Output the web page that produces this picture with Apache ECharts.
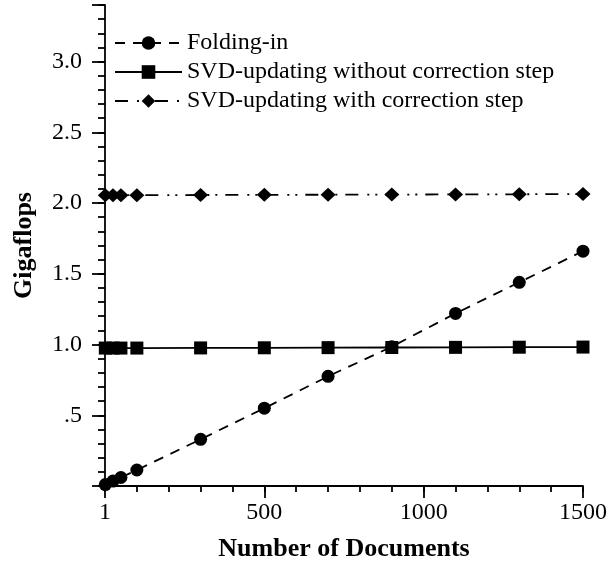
<!DOCTYPE html>
<html>
<head>
<meta charset="utf-8">
<script src="https://cdn.jsdelivr.net/npm/echarts@6/dist/echarts.min.js"></script>
<style>html,body{margin:0;padding:0;background:#fff}#c{width:610px;height:567px}</style>
</head>
<body>
<div id="c"></div>
<script>
var docs = [1, 25, 50, 100, 300, 500, 700, 900, 1100, 1300, 1500];
var foldingIn = [0.01, 0.035, 0.06, 0.113, 0.33, 0.55, 0.775, 0.985, 1.22, 1.44, 1.66];
var svdNoCorr = [0.975, 0.975, 0.975, 0.975, 0.976, 0.977, 0.978, 0.979, 0.98, 0.981, 0.982];
var svdCorr = [2.056, 2.056, 2.056, 2.056, 2.057, 2.058, 2.059, 2.06, 2.061, 2.062, 2.064];
var seriesNames = ['Folding-in', 'SVD-updating without correction step', 'SVD-updating with correction step'];
var xMajorLabels = {0: '1', 500: '500', 1000: '1000', 1500: '1500'};

function pairs(ys) { return docs.map(function (d, i) { return [d, ys[i]]; }); }

var FONT = '"Liberation Serif", "Times New Roman", serif';
var chart = echarts.init(document.getElementById('c'), null, {renderer: 'canvas'});
var axisLineStyle = {color: '#000', width: 1.8};
chart.setOption({
  animation: false,
  backgroundColor: '#fff',
  textStyle: {fontFamily: FONT, color: '#000'},
  grid: {left: 105, right: 24, top: 5, bottom: 81, containLabel: false},
  legend: {
    orient: 'vertical', left: 109, top: 26, itemWidth: 67, itemHeight: 17, itemGap: 5,
    data: seriesNames,
    textStyle: {fontFamily: FONT, fontSize: 24, color: '#000'}
  },
  xAxis: [
    {
      type: 'value', min: 0, max: 1500, interval: 500, position: 'bottom',
      name: 'Number of Documents', nameLocation: 'middle', nameGap: 50,
      nameTextStyle: {fontFamily: FONT, fontSize: 26, fontWeight: 'bold', color: '#000'},
      axisLine: {show: true, lineStyle: axisLineStyle},
      axisTick: {show: true, inside: false, length: 12, lineStyle: {color: '#000', width: 1.8}},
      axisLabel: {fontFamily: FONT, fontSize: 24, color: '#000', margin: 15,
        formatter: function (v) { return xMajorLabels[v] !== undefined ? xMajorLabels[v] : ''; }},
      splitLine: {show: false}
    },
    {
      type: 'value', min: 0, max: 1500, interval: 100, position: 'bottom', offset: 0,
      axisLine: {show: false},
      axisTick: {show: true, inside: false, length: 6, lineStyle: {color: '#000', width: 1.8}},
      axisLabel: {show: false},
      splitLine: {show: false}
    }
  ],
  yAxis: [
    {
      type: 'value', min: 0, max: 3.4, interval: 0.5, position: 'left',
      name: 'Gigaflops', nameLocation: 'middle', nameGap: 68, nameRotate: 90,
      nameTextStyle: {fontFamily: FONT, fontSize: 26, fontWeight: 'bold', color: '#000'},
      axisLine: {show: true, lineStyle: axisLineStyle},
      axisTick: {show: true, inside: false, length: 13, lineStyle: {color: '#000', width: 1.8}},
      axisLabel: {fontFamily: FONT, fontSize: 24, color: '#000', margin: 23,
        formatter: function (v) {
          if (v <= 0 || v > 3.01) return '';
          if (Math.abs(v - 0.5) < 1e-6) return '.5';
          return v.toFixed(1);
        }},
      splitLine: {show: false}
    },
    {
      type: 'value', min: 0, max: 3.4, interval: 0.1, position: 'left', offset: 0,
      axisLine: {show: false},
      axisTick: {show: true, inside: false, length: 7, lineStyle: {color: '#000', width: 1.8}},
      axisLabel: {show: false},
      splitLine: {show: false}
    }
  ],
  series: [
    {
      name: seriesNames[0], type: 'line', xAxisIndex: 0, yAxisIndex: 0,
      data: pairs(foldingIn), symbol: 'circle', symbolSize: 13,
      itemStyle: {color: '#000'},
      lineStyle: {color: '#000', width: 1.8, type: [10, 8]}
    },
    {
      name: seriesNames[1], type: 'line', xAxisIndex: 0, yAxisIndex: 0,
      data: pairs(svdNoCorr), symbol: 'rect', symbolSize: 13,
      itemStyle: {color: '#000'},
      lineStyle: {color: '#000', width: 1.8, type: 'solid'}
    },
    {
      name: seriesNames[2], type: 'line', xAxisIndex: 0, yAxisIndex: 0,
      data: pairs(svdCorr), symbol: 'diamond', symbolSize: [15, 14],
      itemStyle: {color: '#000'},
      lineStyle: {color: '#000', width: 1.8, type: [13, 9, 2, 6, 2, 8]}
    }
  ]
});
</script>
</body>
</html>
